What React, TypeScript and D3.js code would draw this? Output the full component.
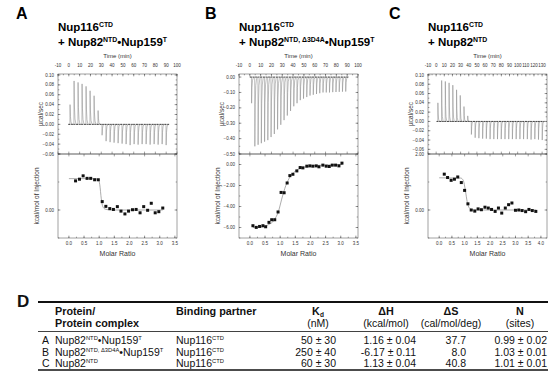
import React from 'react';
import * as d3 from 'd3';

const FONT = '"Liberation Sans", Arial, Helvetica, sans-serif';

// ---- panel A : Nup116CTD + Nup82NTD.Nup159T
const timesA = [1, 4.7, 8.4, 12.1, 15.8, 19.5, 23.2, 26.9, 30.6, 34.3, 38, 41.7, 45.4, 49.1, 52.8, 56.5, 60.2, 63.9, 67.6, 71.3, 75, 78.7, 82.4, 86.1, 89.8];
const peaksA = [0.04, 0.088, 0.085, 0.082, 0.077, 0.068, 0.058, 0.028, -0.022, -0.034, -0.036, -0.037, -0.038, -0.039, -0.04, -0.042, -0.04, -0.041, -0.04, -0.04, -0.041, -0.04, -0.041, -0.04, -0.042];
const ratioA = [0.22, 0.35, 0.47, 0.6, 0.72, 0.85, 0.97, 1.1, 1.22, 1.35, 1.47, 1.6, 1.72, 1.85, 1.97, 2.1, 2.22, 2.35, 2.47, 2.6, 2.72, 2.85, 2.97, 3.1];
const heatA = [1.04, 1.1, 1.22, 1.13, 1.13, 1.08, 1.08, 0.3, 0.13, 0.05, 0.02, 0.12, -0.04, -0.14, -0.04, 0.01, 0.02, -0.1, 0.12, -0.01, 0.24, -0.1, -0.06, 0.07];
const fitA: [number, number][] = [[0, 1.12], [0.85, 1.12], [0.97, 1.08], [1.02, 0.9], [1.07, 0.4], [1.12, 0.12], [1.2, 0.03], [1.4, 0], [3.1, 0]];

// ---- panel B : Nup116CTD + Nup82NTD,d3D4A.Nup159T
const timesB = [1.5, 4.5, 7.5, 10.5, 13.5, 16.5, 19.5, 22.5, 25.5, 28.5, 31.5, 34.5, 37.5, 40.5, 43.5, 46.5, 49.5, 52.5, 55.5, 58.5, 61.5, 64.5, 67.5, 70.5, 73.5, 76.5, 79.5, 82.5, 85.5, 88.5];
const peaksB = [-0.17, -0.45, -0.44, -0.43, -0.42, -0.41, -0.39, -0.37, -0.34, -0.31, -0.28, -0.25, -0.22, -0.19, -0.17, -0.15, -0.14, -0.13, -0.12, -0.115, -0.11, -0.105, -0.1, -0.1, -0.1, -0.098, -0.097, -0.096, -0.095, -0.094];
const ratioB = [0.1, 0.21, 0.32, 0.43, 0.52, 0.63, 0.72, 0.82, 0.93, 1.03, 1.13, 1.23, 1.32, 1.42, 1.55, 1.66, 1.75, 1.88, 1.98, 2.08, 2.19, 2.28, 2.41, 2.52, 2.62, 2.72, 2.83, 2.94, 3.04];
const heatB = [-5.83, -5.99, -5.9, -5.83, -5.93, -5.51, -5.26, -5.26, -4.52, -2.66, -2.69, -1.76, -1.06, -0.93, -0.61, -0.29, -0.32, -0.16, -0.13, -0.16, -0.13, -0.22, -0.06, -0.16, -0.19, -0.06, -0.06, -0.13, 0.13];
const fitB: [number, number][] = [[0.1, -6.0], [0.4, -5.95], [0.6, -5.75], [0.8, -5.3], [0.95, -4.4], [1.05, -3.3], [1.15, -2.3], [1.3, -1.3], [1.45, -0.75], [1.6, -0.45], [1.8, -0.25], [2.1, -0.12], [2.5, -0.05], [3.05, 0]];

// ---- panel C : Nup116CTD + Nup82NTD
const timesC = [2, 6.6, 11.1, 15.7, 20.3, 24.9, 29.4, 34, 38.6, 43.1, 47.7, 52.3, 56.9, 61.4, 66, 70.6, 75.1, 79.7, 84.3, 88.9, 93.4, 98, 102.6, 107.1, 111.7, 116.3, 120.9, 125.4, 130];
const peaksC = [0.04, 0.088, 0.086, 0.083, 0.078, 0.068, 0.056, 0.032, 0.012, -0.028, -0.035, -0.036, -0.037, -0.037, -0.038, -0.038, -0.038, -0.038, -0.038, -0.038, -0.038, -0.038, -0.038, -0.038, -0.038, -0.039, -0.038, -0.039, -0.04];
const ratioC = [0.2, 0.33, 0.47, 0.6, 0.73, 0.87, 1.0, 1.13, 1.26, 1.4, 1.53, 1.66, 1.8, 1.93, 2.06, 2.2, 2.33, 2.46, 2.6, 2.73, 2.86, 3.0, 3.13, 3.26, 3.4, 3.53, 3.66, 3.8];
const heatC = [1.28, 1.16, 1.06, 1.1, 1.18, 0.98, 0.7, 0.22, 0, -0.04, 0.04, 0.01, 0.1, 0.07, 0.02, -0.05, 0.07, -0.11, 0.07, 0.19, 0.25, -0.01, 0, -0.02, -0.06, 0.02, -0.02, -0.05];
const fitC: [number, number][] = [[0, 1.15], [0.85, 1.14], [0.95, 1.05], [1.03, 0.7], [1.1, 0.3], [1.18, 0.08], [1.3, 0.01], [1.5, 0], [3.8, 0]];

// ---- table D
const rowLetters = ['A', 'B', 'C'];
const rowProtein = [
  [{ t: 'Nup82' }, { t: 'NTD', sup: true }, { t: '•Nup159' }, { t: 'T', sup: true }],
  [{ t: 'Nup82' }, { t: 'NTD, Δ3D4A', sup: true }, { t: '•Nup159' }, { t: 'T', sup: true }],
  [{ t: 'Nup82' }, { t: 'NTD', sup: true }],
];
const rowPartner = ['Nup116', 'Nup116', 'Nup116'];
const rowKd = ['50 ± 30', '250 ± 40', '60 ± 30'];
const rowDH = ['1.16 ± 0.04', '-6.17 ± 0.11', '1.13 ± 0.04'];
const rowDS = ['37.7', '8.0', '40.8'];
const rowN = ['0.99 ± 0.02', '1.03 ± 0.01', '1.01 ± 0.01'];

type Part = { t: string; sup?: boolean; sub?: boolean };

function Rich({ x, y, parts, size, weight = 'normal', anchor = 'start', supScale = 0.6 }: { x: number; y: number; parts: Part[]; size: number; weight?: string; anchor?: string; supScale?: number }) {
  let shift = 0;
  return (
    <text x={x} y={y} fontSize={size} fontWeight={weight} textAnchor={anchor as any}>
      {parts.map((p, i) => {
        const target = p.sup ? -size * 0.38 : p.sub ? size * 0.22 : 0;
        const dy = target - shift;
        shift = target;
        return (
          <tspan key={i} dy={dy} fontSize={p.sup || p.sub ? size * supScale : size}>{p.t}</tspan>
        );
      })}
    </text>
  );
}

type Cfg = {
  letter: string; lx: number; left: number;
  title2: Part[];
  tDomain: [number, number]; tTicks: number[];
  rawDomain: [number, number]; rawTicks: number[]; rawMinor: number;
  times: number[]; peaks: number[];
  mrDomain: [number, number]; mrTicks: number[];
  kDomain: [number, number]; kTicks: number[]; kMajor: number[];
  ratio: number[]; heat: number[]; fit: [number, number][];
};

const W = 119, T0 = 74, T1 = 154, B1 = 238;
const TICK = 2.4, MINOR = 1.3;

function Panel({ c }: { c: Cfg }) {
  const L = c.left, R = c.left + W;
  const xT = d3.scaleLinear().domain(c.tDomain).range([L, R]);
  const yT = d3.scaleLinear().domain(c.rawDomain).range([T1, T0]);
  const xM = d3.scaleLinear().domain(c.mrDomain).range([L, R]);
  const yM = d3.scaleLinear().domain(c.kDomain).range([B1, T1]);

  const trace: [number, number][] = [[c.times[0] - 1.5, 0]];
  c.times.forEach((t, i) => {
    const h = c.peaks[i];
    trace.push([t, 0], [t + 0.15, h], [t + 0.5, h * 0.4], [t + 1, h * 0.12], [t + 1.8, h * 0.02], [t + 2.5, 0]);
  });
  trace.push([c.times[c.times.length - 1] + 3, 0]);
  const line = d3.line<[number, number]>().x(d => xT(d[0])).y(d => yT(d[1]));
  const fitLine = d3.line<[number, number]>().x(d => xM(d[0])).y(d => yM(d[1])).curve(d3.curveMonotoneX);

  const tMinor = d3.range(c.tDomain[0], c.tDomain[1] + 0.01, 5);
  const rawMinorTicks = d3.range(Math.ceil(c.rawDomain[0] / c.rawMinor) * c.rawMinor, c.rawDomain[1] + 1e-9, c.rawMinor);
  const mrMinor = d3.range(0, c.mrDomain[1], 0.25);
  const kMinor = d3.range(Math.ceil(c.kDomain[0]), c.kDomain[1] + 1e-9, 1);

  const hTicks = (xs: number[], sx: (v: number) => number, y: number, dir: number, len: number, key: string) =>
    xs.filter(v => sx(v) >= L - 0.1 && sx(v) <= R + 0.1).map((v, i) => (
      <line key={key + i} x1={sx(v)} x2={sx(v)} y1={y} y2={y + dir * len} />
    ));
  const vTicks = (ys: number[], sy: (v: number) => number, top: number, bot: number, len: number, key: string) =>
    ys.filter(v => sy(v) >= top - 0.1 && sy(v) <= bot + 0.1).flatMap((v, i) => [
      <line key={key + 'l' + i} x1={L} x2={L + len} y1={sy(v)} y2={sy(v)} />,
      <line key={key + 'r' + i} x1={R} x2={R - len} y1={sy(v)} y2={sy(v)} />,
    ]);

  const fmt2 = d3.format('.2f');
  const fmt1 = d3.format('.1f');

  return (
    <g>
      <text x={c.lx} y={19} fontSize={16} fontWeight="bold">{c.letter}</text>
      <Rich x={L} y={31} size={11.5} weight="bold" parts={[{ t: 'Nup116' }, { t: 'CTD', sup: true }]} />
      <Rich x={L} y={46} size={11.5} weight="bold" parts={c.title2} />

      <text x={(L + R) / 2} y={58} fontSize={6} textAnchor="middle" fill="#333">Time (min)</text>
      {c.tTicks.map((v, i) => (
        <text key={'tl' + i} x={xT(v)} y={67} fontSize={4.5} textAnchor="middle" fill="#333">{v}</text>
      ))}
      {c.rawTicks.map((v, i) => (
        <text key={'rl' + i} x={L - 4} y={yT(v) + 1.6} fontSize={4.5} textAnchor="end" fill="#333">{fmt2(v)}</text>
      ))}
      <text transform={`translate(${L - 15},${(T0 + T1) / 2}) rotate(-90)`} fontSize={6.5} textAnchor="middle" fill="#333">µcal/sec</text>

      {c.kTicks.map((v, i) => (
        <text key={'kl' + i} x={L - 4} y={yM(v) + 1.6} fontSize={4.5} textAnchor="end" fill="#333">{fmt2(v)}</text>
      ))}
      <text transform={`translate(${L - 19},${(T1 + B1) / 2}) rotate(-90)`} fontSize={6.5} textAnchor="middle" fill="#333">kcal/mol of Injection</text>
      {c.mrTicks.map((v, i) => (
        <text key={'ml' + i} x={xM(v)} y={B1 + 7} fontSize={4.5} textAnchor="middle" fill="#333">{fmt1(v)}</text>
      ))}
      <text x={(L + R) / 2} y={B1 + 18} fontSize={7} textAnchor="middle" fill="#333">Molar Ratio</text>

      {/* raw data */}
      <path d={line(trace) ?? ''} fill="none" stroke="#8a8a8a" strokeWidth={0.55} />
      <line x1={xT(c.times[0] - 1.5)} x2={xT(c.times[c.times.length - 1] + 3)} y1={yT(0)} y2={yT(0)} stroke="#111" strokeWidth={0.7} strokeDasharray="2,0.6" />

      {/* integrated heats */}
      <path d={fitLine(c.fit) ?? ''} fill="none" stroke="#888" strokeWidth={0.7} />
      {c.ratio.map((r, i) => (
        <rect key={'p' + i} x={xM(r) - 1.5} y={yM(c.heat[i]) - 1.5} width={3} height={3} fill="#111" />
      ))}

      {/* frames and ticks */}
      <g stroke="#444" strokeWidth={0.5}>
        <rect x={L} y={T0} width={W} height={T1 - T0} fill="none" />
        <rect x={L} y={T1} width={W} height={B1 - T1} fill="none" />
        {hTicks(c.tTicks, xT, T0, 1, TICK, 'tt')}
        {hTicks(tMinor, xT, T0, 1, MINOR, 'tm')}
        {hTicks(c.tTicks, xT, T1, -1, TICK, 'tb')}
        {vTicks(c.rawTicks, yT, T0, T1, TICK, 'ry')}
        {vTicks(rawMinorTicks, yT, T0, T1, MINOR, 'rm')}
        {hTicks(c.mrTicks, xM, B1, -1, TICK, 'mb')}
        {hTicks(mrMinor, xM, B1, -1, MINOR, 'mm')}
        {hTicks(c.mrTicks, xM, T1, 1, TICK, 'mt')}
        {vTicks(c.kMajor, yM, T1, B1, TICK, 'ky')}
        {vTicks(kMinor, yM, T1, B1, MINOR, 'km')}
      </g>
    </g>
  );
}

const tTicks100 = [-10, 0, 10, 20, 30, 40, 50, 60, 70, 80, 90, 100];
const tTicks130 = [-10, 0, 10, 20, 30, 40, 50, 60, 70, 80, 90, 100, 110, 120, 130];
const rawTicksAC = [0.1, 0.08, 0.06, 0.04, 0.02, 0, -0.02, -0.04, -0.06];
const rawTicksB = [0, -0.1, -0.2, -0.3, -0.4, -0.5];
const mrTicks35 = [0, 0.5, 1, 1.5, 2, 2.5, 3, 3.5];
const mrTicks40 = [0, 0.5, 1, 1.5, 2, 2.5, 3, 3.5, 4];

const panels: Cfg[] = [
  {
    letter: 'A', lx: 16, left: 58,
    title2: [{ t: '+ Nup82' }, { t: 'NTD', sup: true }, { t: '•Nup159' }, { t: 'T', sup: true }],
    tDomain: [-10, 100], tTicks: tTicks100,
    rawDomain: [-0.06, 0.102], rawTicks: rawTicksAC, rawMinor: 0.01,
    times: timesA, peaks: peaksA,
    mrDomain: [-0.36, 3.57], mrTicks: mrTicks35,
    kDomain: [-1, 2], kTicks: [0], kMajor: [0, 2],
    ratio: ratioA, heat: heatA, fit: fitA,
  },
  {
    letter: 'B', lx: 205, left: 239,
    title2: [{ t: '+ Nup82' }, { t: 'NTD, Δ3D4A', sup: true }, { t: '•Nup159' }, { t: 'T', sup: true }],
    tDomain: [-10, 100], tTicks: tTicks100,
    rawDomain: [-0.5, 0.02], rawTicks: rawTicksB, rawMinor: 0.05,
    times: timesB, peaks: peaksB,
    mrDomain: [-0.36, 3.57], mrTicks: mrTicks35,
    kDomain: [-7, 1], kTicks: [0, -2, -4, -6], kMajor: [0, -2, -4, -6],
    ratio: ratioB, heat: heatB, fit: fitB,
  },
  {
    letter: 'C', lx: 389, left: 428,
    title2: [{ t: '+ Nup82' }, { t: 'NTD', sup: true }],
    tDomain: [-10, 136], tTicks: tTicks130,
    rawDomain: [-0.07, 0.102], rawTicks: rawTicksAC, rawMinor: 0.01,
    times: timesC, peaks: peaksC,
    mrDomain: [-0.44, 4.24], mrTicks: mrTicks40,
    kDomain: [-1, 2], kTicks: [0, 2], kMajor: [0, 2],
    ratio: ratioC, heat: heatC, fit: fitC,
  },
];

function Table() {
  const x0 = 38, x1 = 548;
  const hs = 10.8, fs = 10.5;
  const rowY = [343.5, 355.5, 366.5];
  return (
    <g fill="#111">
      <text x={17} y={307} fontSize={17} fontWeight="bold">D</text>
      <line x1={x0} x2={x1} y1={302} y2={302} stroke="#111" strokeWidth={1.8} />
      <line x1={x0} x2={x1} y1={331.5} y2={331.5} stroke="#111" strokeWidth={0.8} />
      <line x1={x0} x2={x1} y1={370} y2={370} stroke="#111" strokeWidth={1.6} />

      <g fontWeight="bold" fontSize={hs}>
        <text x={55} y={315}>Protein/</text>
        <text x={55} y={327}>Protein complex</text>
        <text x={176} y={315}>Binding partner</text>
        <Rich x={318} y={315} size={hs} weight="bold" anchor="middle" parts={[{ t: 'K' }, { t: 'd', sub: true }]} />
        <text x={386} y={315} textAnchor="middle">ΔH</text>
        <text x={451} y={315} textAnchor="middle">ΔS</text>
        <text x={520} y={315} textAnchor="middle">N</text>
      </g>
      <g fontSize={fs} textAnchor="middle">
        <text x={318} y={327}>(nM)</text>
        <text x={386} y={327}>(kcal/mol)</text>
        <text x={451} y={327}>(cal/mol/deg)</text>
        <text x={520} y={327}>(sites)</text>
      </g>

      {rowLetters.map((l, i) => (
        <g key={l} fontSize={fs}>
          <text x={42} y={rowY[i]}>{l}</text>
          <Rich x={55} y={rowY[i]} size={fs} supScale={0.55} parts={rowProtein[i]} />
          <Rich x={176} y={rowY[i]} size={fs} supScale={0.55} parts={[{ t: rowPartner[i] }, { t: 'CTD', sup: true }]} />
          <text x={336} y={rowY[i]} textAnchor="end">{rowKd[i]}</text>
          <text x={416} y={rowY[i]} textAnchor="end">{rowDH[i]}</text>
          <text x={466} y={rowY[i]} textAnchor="end">{rowDS[i]}</text>
          <text x={547} y={rowY[i]} textAnchor="end">{rowN[i]}</text>
        </g>
      ))}
    </g>
  );
}

export default function App() {
  return (
    <svg width={550} height={371} viewBox="0 0 550 371" style={{ position: 'absolute', left: 0, top: 0, background: '#fff' }} fontFamily={FONT}>
      <rect width={550} height={371} fill="#fff" />
      {panels.map(p => <Panel key={p.letter} c={p} />)}
      <Table />
    </svg>
  );
}
